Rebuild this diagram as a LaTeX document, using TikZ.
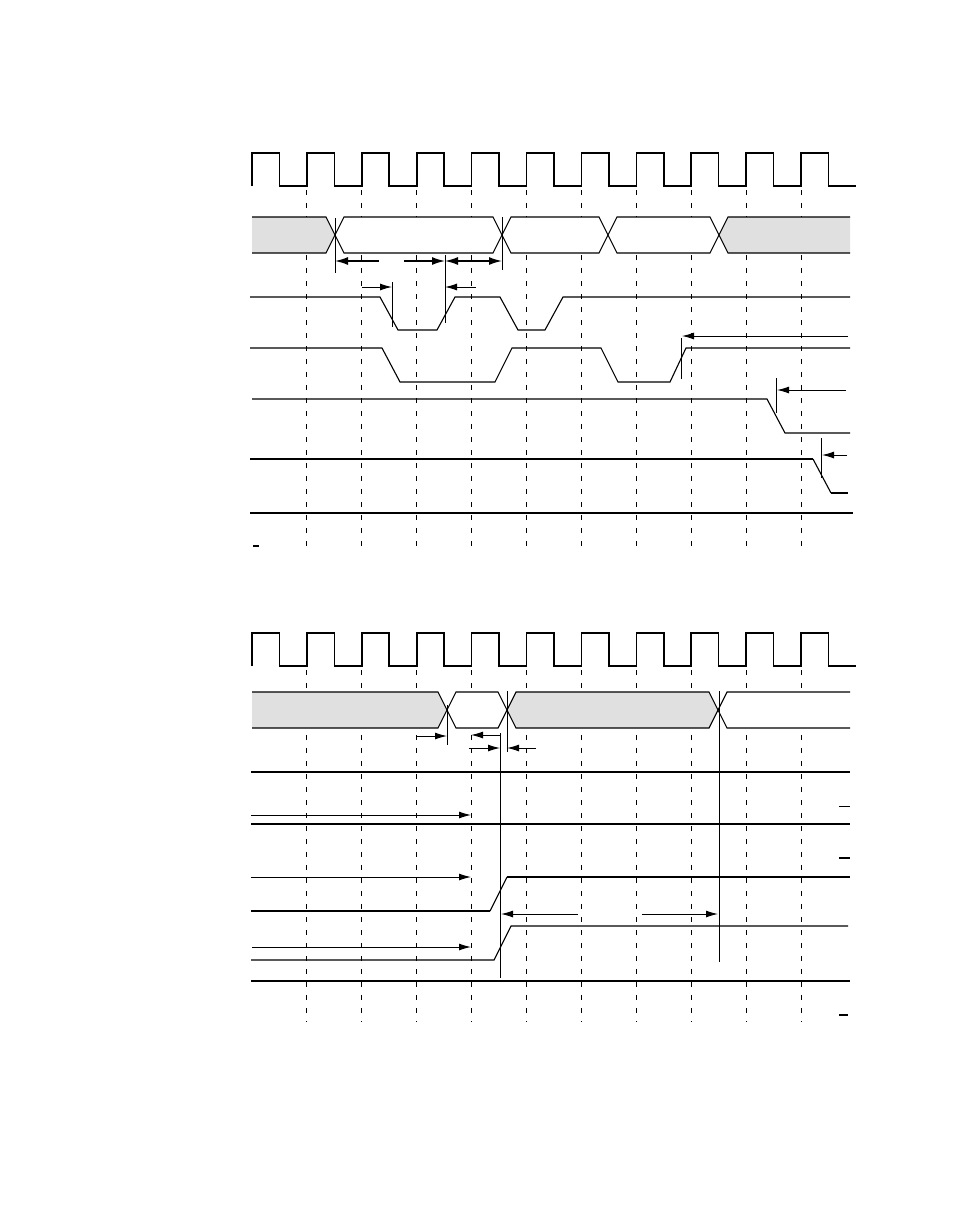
\documentclass[tikz,border=0pt]{standalone}
\usetikzlibrary{arrows.meta}
\definecolor{busgray}{RGB}{224,224,224}
\tikzset{
  clk/.style={line width=1.6pt, line join=miter},
  thin/.style={line width=1.1pt},
  thick2/.style={line width=2.4pt},
  dashln/.style={line width=0.9pt, dash pattern=on 5pt off 8pt},
  busline/.style={line width=1.1pt, line join=miter},
  marker/.style={line width=0.9pt},
  arr/.style={line width=1.0pt, -{Latex[length=12pt,width=7pt]}},
  barr/.style={line width=1.6pt, -{Latex[length=13pt,width=8pt]}},
  dbarr/.style={line width=1.6pt, {Latex[length=13pt,width=8pt]}-{Latex[length=13pt,width=8pt]}},
}
\newcommand\bseg[5]{% fill, c1, c2, ytop, ybottom
  \filldraw[fill=#1,busline] (#2,{(#4+#5)/2}) -- ({#2+9},#4) -- ({#3-9},#4) -- (#3,{(#4+#5)/2}) -- ({#3-9},#5) -- ({#2+9},#5) -- cycle;}
\newcommand\bstart[5]{% fill, xstart, c, ytop, ybottom
  \fill[#1] (#2,#4) -- ({#3-9},#4) -- (#3,{(#4+#5)/2}) -- ({#3-9},#5) -- (#2,#5) -- cycle;
  \draw[busline] (#2,#4) -- ({#3-9},#4) -- (#3,{(#4+#5)/2}) -- ({#3-9},#5) -- (#2,#5);}
\newcommand\bend[5]{% fill, c, xend, ytop, ybottom
  \fill[#1] (#3,#4) -- ({#2+9},#4) -- (#2,{(#4+#5)/2}) -- ({#2+9},#5) -- (#3,#5) -- cycle;
  \draw[busline] (#3,#4) -- ({#2+9},#4) -- (#2,{(#4+#5)/2}) -- ({#2+9},#5) -- (#3,#5);}
\begin{document}
\begin{tikzpicture}[x=1pt,y=-1pt]
\fill[white] (0,0) rectangle (954,1227);
\useasboundingbox (0,0) rectangle (954,1227);

% ================= TOP DIAGRAM =================
\foreach \k in {1,...,10} \draw[dashln] ({252+54.9*\k},190) -- ({252+54.9*\k},548);
\draw[clk] (252,186) \foreach \k in {0,...,10}{ -- ({252+54.9*\k},186) -- ({252+54.9*\k},153) -- ({279.45+54.9*\k},153) -- ({279.45+54.9*\k},186)} -- (856,186);

% bus
\bstart{busgray}{252}{335}{217}{253}
\bseg{white}{335}{502}{217}{253}
\bseg{white}{502}{608}{217}{253}
\bseg{white}{608}{719}{217}{253}
\bend{busgray}{719}{850}{217}{253}

% reference lines
\draw[marker] (335,218) -- (335,273);
\draw[marker] (502,217) -- (502,270);
\draw[marker] (445,255) -- (445,323);
\draw[marker] (392,282) -- (392,327);
\draw[marker] (681.6,338) -- (681.6,379);
\draw[marker] (776,378) -- (776,413);
\draw[marker] (821,438) -- (821,478);

% timing arrows
\draw[barr] (379,261) -- (335,261);
\draw[barr] (404,261) -- (445,261);
\draw[dbarr] (445,261) -- (502,261);
\draw[arr] (362,287) -- (392,287);
\draw[arr] (476,287) -- (445,287);
\draw[arr] (848,336) -- (682,336);
\draw[arr] (846,390) -- (777,390);
\draw[arr] (847,455) -- (822,455);

% signals
\draw[thin] (250,297) -- (380,297) -- (398,330) -- (437,330) -- (455,297) -- (500,297) -- (518,330) -- (545,330) -- (563,297) -- (850,297);
\draw[thin] (250,348) -- (382,348) -- (400,382) -- (495,382) -- (512,348) -- (601,348) -- (618,382) -- (670,382) -- (686,348) -- (850,348);
\draw[thin] (252,399) -- (767,399) -- (785,433) -- (850,433);
\draw[thick2] (250,459) -- (813,459);
\draw[thin] (813,459) -- (831,493);
\draw[thick2] (831,493) -- (848,493);
\draw[line width=1.3pt] (250,513) -- (853,513);
\draw[line width=2pt] (253,546) -- (259,546);

% ================= BOTTOM DIAGRAM =================
\foreach \k in {1,...,10} \draw[dashln] ({252+54.9*\k},670) -- ({252+54.9*\k},1022);
\draw[clk] (252,666) \foreach \k in {0,...,10}{ -- ({252+54.9*\k},666) -- ({252+54.9*\k},633) -- ({279.45+54.9*\k},633) -- ({279.45+54.9*\k},666)} -- (856,666);

\bstart{busgray}{252}{447}{692}{728}
\bseg{white}{447}{507}{692}{728}
\bseg{busgray}{507}{718}{692}{728}
\bend{white}{718}{850}{692}{728}

\draw[marker] (447,705) -- (447,745);
\draw[marker] (507,691) -- (507,752);
\draw[marker] (500,733) -- (500,978);
\draw[marker] (719,691) -- (719,962);

\draw[arr] (416,736) -- (447,736);
\draw[arr] (501,735) -- (471,735);
\draw[arr] (469,748) -- (500,748);
\draw[arr] (536,748) -- (507,748);

\draw[thin] (251,772) -- (850,772);
\draw[marker] (839,806) -- (850,806);
\draw[arr] (251,815) -- (471,815);
\draw[thick2] (251,824) -- (850,824);
\draw[line width=2pt] (839,858) -- (850,858);
\draw[arr] (251,877) -- (471,877);
\draw[thick2] (251,911) -- (490,911);
\draw[thin] (490,911) -- (507,877);
\draw[thick2] (507,877) -- (850,877);
\draw[arr] (578,914) -- (501,914);
\draw[arr] (642,914) -- (718,914);
\draw[thin] (251,960) -- (494,960) -- (511,926) -- (848,926);
\draw[arr] (252,947) -- (471,947);
\draw[thick2] (251,981) -- (850,981);
\draw[line width=2pt] (839,1015) -- (848,1015);
\end{tikzpicture}
\end{document}
